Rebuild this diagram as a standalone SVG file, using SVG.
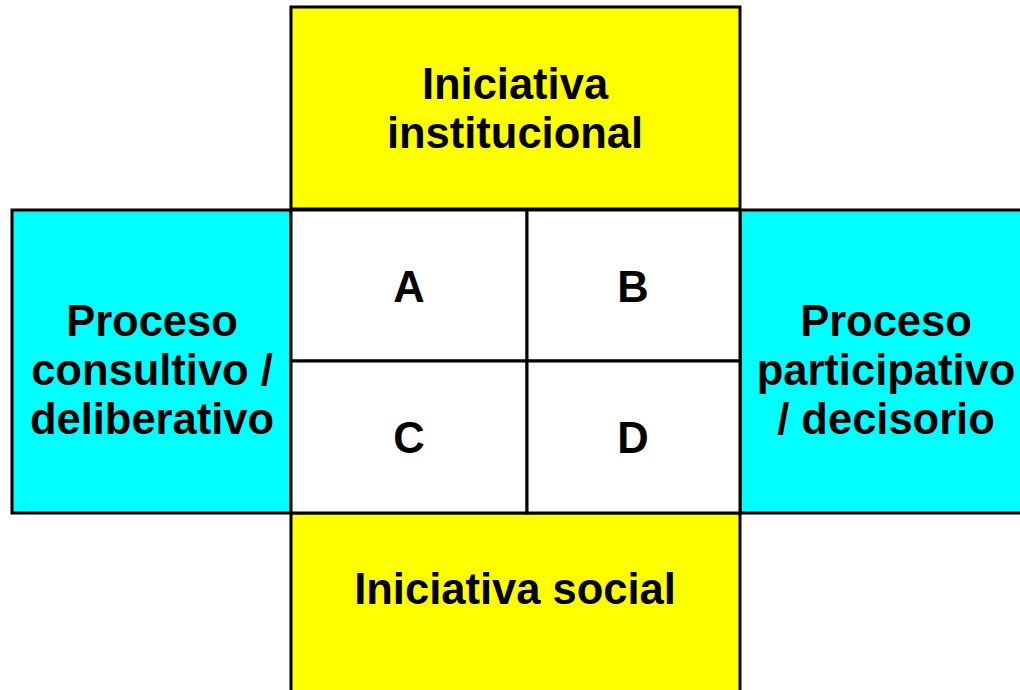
<svg xmlns="http://www.w3.org/2000/svg" width="1020" height="690" viewBox="0 0 1020 690">
<style>
.box{stroke:#000;stroke-width:3}
.y{fill:#ffff00}
.c{fill:#00ffff}
.w{fill:#fff}
text{font-family:"Liberation Sans",Arial,sans-serif;font-weight:bold;font-size:43.5px;fill:#000;text-anchor:middle}
</style>
<rect width="1020" height="690" fill="#fff"/>
<g id="top"><rect class="box y" x="291" y="7" width="449" height="202"/><text x="515" y="99">Iniciativa</text><text x="515" y="148">institucional</text></g>
<g id="bottom"><rect class="box y" x="291" y="513" width="449" height="200"/><text x="515" y="604">Iniciativa social</text></g>
<g id="left"><rect class="box c" x="12" y="210" width="279" height="303"/><text x="152" y="336">Proceso</text><text x="152" y="385">consultivo /</text><text x="152" y="434">deliberativo</text></g>
<g id="right"><rect class="box c" x="740" y="210" width="300" height="303"/><text x="886" y="336">Proceso</text><text x="886" y="385">participativo</text><text x="886" y="434">/ decisorio</text></g>
<g id="A"><rect class="box w" x="291" y="210" width="236" height="151"/><text x="409" y="302">A</text></g>
<g id="B"><rect class="box w" x="527" y="210" width="213" height="151"/><text x="633" y="302">B</text></g>
<g id="C"><rect class="box w" x="291" y="361" width="236" height="152"/><text x="409" y="453">C</text></g>
<g id="D"><rect class="box w" x="527" y="361" width="213" height="152"/><text x="633" y="453">D</text></g>
<g id="connectors"></g>
</svg>
